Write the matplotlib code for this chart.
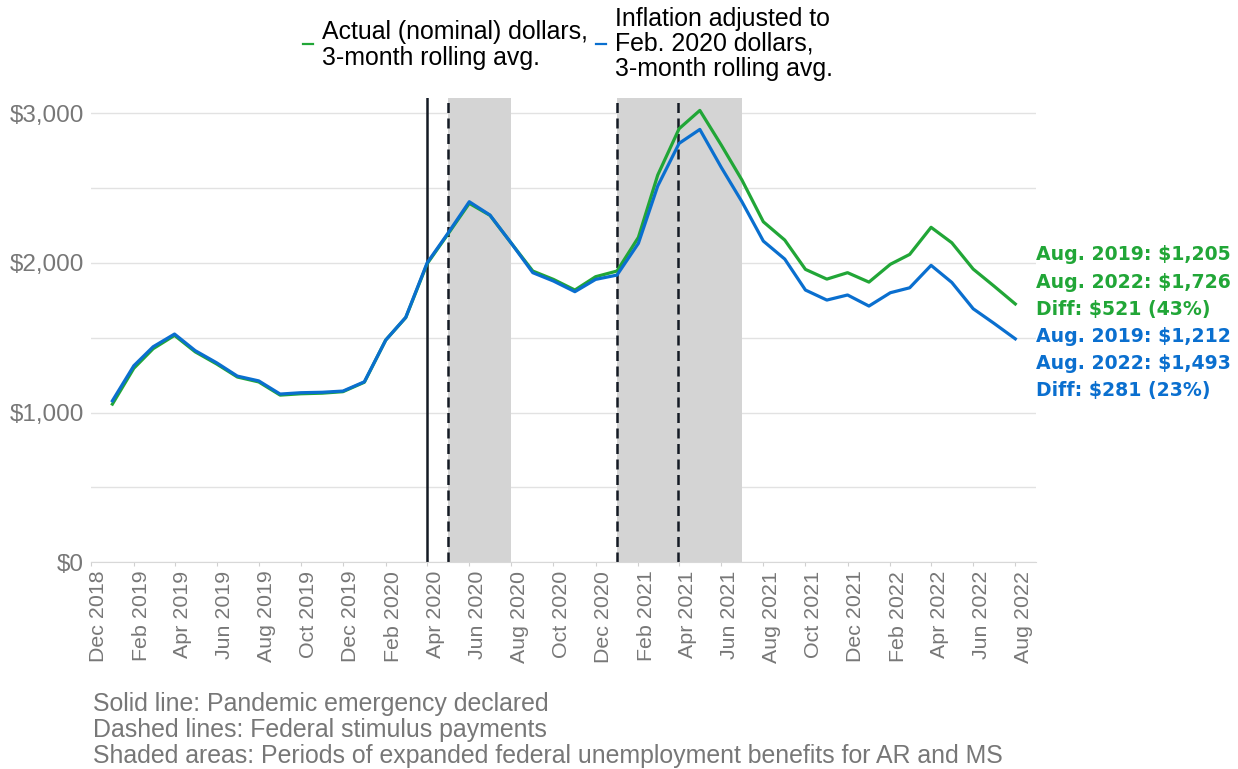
import pandas as pd
import matplotlib
matplotlib.use("Agg")
import matplotlib.pyplot as plt
import matplotlib.dates as mdates
import matplotlib.ticker as mticker
import matplotlib.transforms as mtransforms
from matplotlib.lines import Line2D

# Monthly benefit amounts, 3-month rolling averages
months = pd.date_range("2019-01-01", "2022-08-01", freq="MS")
nominal = [1057, 1296, 1427, 1516, 1406, 1325, 1238, 1205, 1117, 1126, 1130, 1140,
           1203, 1485, 1635, 1995, 2192, 2398, 2318, 2131, 1946, 1890, 1819, 1908,
           1946, 2171, 2587, 2897, 3019, 2788, 2554, 2275, 2153, 1957, 1892, 1935,
           1872, 1991, 2057, 2238, 2135, 1959, 1846, 1726]
adjusted = [1079, 1313, 1440, 1525, 1414, 1333, 1244, 1212, 1124, 1133, 1136, 1144,
            1206, 1485, 1637, 2001, 2198, 2409, 2320, 2131, 1935, 1879, 1808, 1890,
            1919, 2131, 2514, 2799, 2892, 2639, 2409, 2146, 2026, 1819, 1752, 1786,
            1712, 1801, 1834, 1984, 1870, 1694, 1597, 1493]

emergency_date = "2020-04-01"
stimulus_dates = ["2020-05-01", "2021-01-01", "2021-03-30"]
benefit_periods = [("2020-05-01", "2020-08-01"), ("2021-01-01", "2021-07-01")]

GREEN = "#21a637"
BLUE = "#0a6fcf"
GREY = "#777777"
SANS = ["Liberation Sans", "DejaVu Sans"]

plt.rcParams["font.family"] = SANS

W, H = 1238, 769
fig = plt.figure(figsize=(W / 100, H / 100), dpi=100)
ax = fig.add_axes([91 / W, 1 - 562.3 / H, (1036 - 91) / W, (562.3 - 98.3) / H])

# shaded periods and event markers
for start, end in benefit_periods:
    ax.axvspan(pd.Timestamp(start), pd.Timestamp(end), color="#d4d4d4", lw=0, zorder=1)
ax.axvline(pd.Timestamp(emergency_date), color="#141a24", lw=1.8, zorder=2)
for d in stimulus_dates:
    ax.axvline(pd.Timestamp(d), color="#141a24", lw=1.8, ls=(0, (4, 2.2)), zorder=2)

ax.plot(months, nominal, color=GREEN, lw=2.3, zorder=3)
ax.plot(months, adjusted, color=BLUE, lw=2.3, zorder=4)

ax.set_xlim(pd.Timestamp("2018-12-01"), pd.Timestamp("2022-08-31"))
ax.set_ylim(0, 3100)

ax.yaxis.set_major_locator(mticker.MultipleLocator(1000))
ax.yaxis.set_minor_locator(mticker.MultipleLocator(500))
ax.yaxis.set_major_formatter(mticker.FuncFormatter(lambda v, p: f"${v:,.0f}"))
ax.grid(True, which="both", axis="y", color="#e2e2e2", lw=1)
ax.set_axisbelow(True)
ax.tick_params(axis="y", which="both", length=0, pad=5, labelsize=17.5, labelcolor=GREY)

ax.xaxis.set_major_locator(mdates.MonthLocator(bymonth=[2, 4, 6, 8, 10, 12]))
ax.xaxis.set_major_formatter(mdates.DateFormatter("%b %Y"))
ax.tick_params(axis="x", length=3, color="#d0d0d0", pad=3, labelsize=15.4,
               labelcolor=GREY, labelrotation=90)

for side in ["left", "right", "top"]:
    ax.spines[side].set_visible(False)
ax.spines["bottom"].set_color("#d8d8d8")

# change summary at the right edge
i19 = list(months).index(pd.Timestamp("2019-08-01"))
i22 = len(months) - 1
lines = []
for vals, col in [(nominal, GREEN), (adjusted, BLUE)]:
    a, b = vals[i19], vals[i22]
    lines += [(f"Aug. 2019: ${a:,}", col), (f"Aug. 2022: ${b:,}", col),
              (f"Diff: ${b - a:,} ({(b - a) / a:.0%})", col)]
for k, (txt, col) in enumerate(lines):
    fig.text(1036.5 / W, 1 - (255 + 27.1 * k) / H, txt, color=col, fontsize=13.6,
             fontweight="bold", family="DejaVu Sans", va="center", ha="left")

# legend
fig.text(322 / W, 1 - 45 / H, "Actual (nominal) dollars,\n3-month rolling avg.",
         fontsize=17.9, va="center", ha="left", linespacing=1.07)
fig.text(615 / W, 1 - 44 / H, "Inflation adjusted to\nFeb. 2020 dollars,\n3-month rolling avg.",
         fontsize=17.9, va="center", ha="left", linespacing=1.07)
for x0, col in [(303, GREEN), (596, BLUE)]:
    fig.add_artist(Line2D([x0 / W, (x0 + 10) / W], [1 - 44 / H, 1 - 44 / H],
                          color=col, lw=1.6, transform=fig.transFigure))

# notes
fig.text(93 / W, 1 - 730 / H,
         "Solid line: Pandemic emergency declared\n"
         "Dashed lines: Federal stimulus payments\n"
         "Shaded areas: Periods of expanded federal unemployment benefits for AR and MS",
         fontsize=17.9, color=GREY, va="center", ha="left", linespacing=1.13)

# nudge the rotated month labels to the right of their ticks
fig.canvas.draw()
shift = mtransforms.ScaledTranslation(8 / 100, 0, fig.dpi_scale_trans)
for lab in ax.get_xticklabels():
    lab.set_transform(lab.get_transform() + shift)

fig.savefig("out.png", dpi=100)
